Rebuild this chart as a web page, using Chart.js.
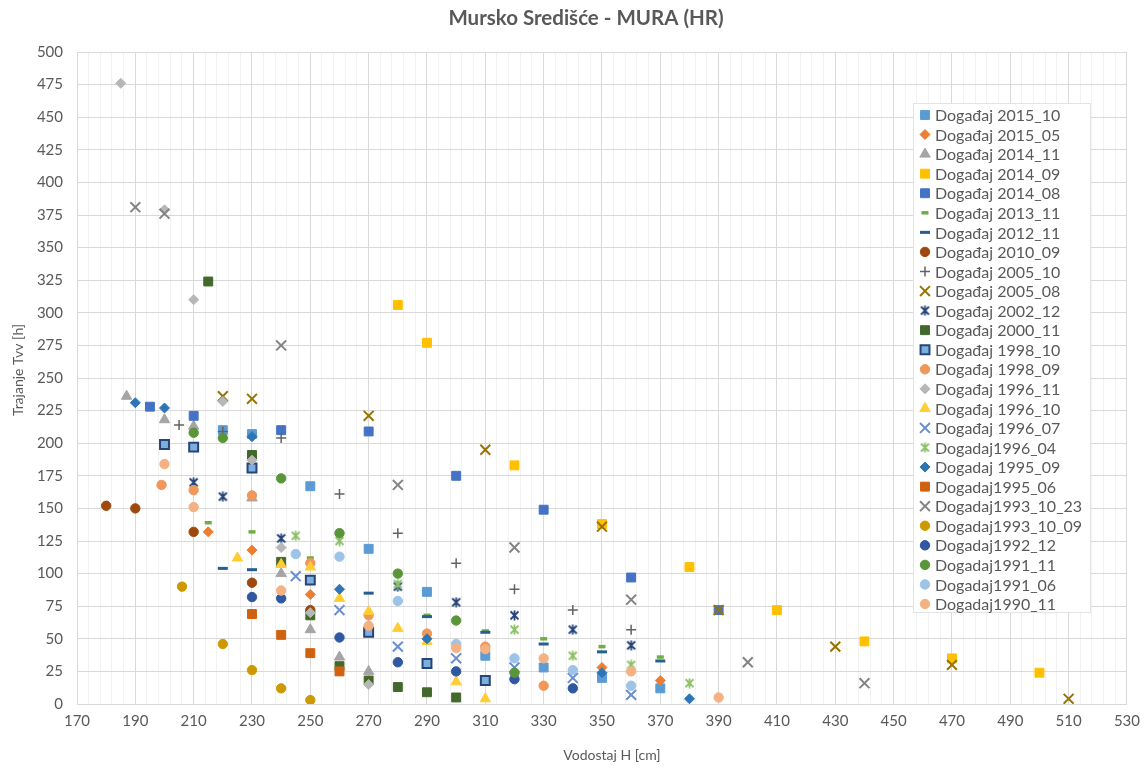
<!DOCTYPE html>
<html>
<head>
<meta charset="utf-8">
<script src="https://cdn.jsdelivr.net/npm/chart.js@4.4.1/dist/chart.umd.min.js"></script>
<style>
  html, body { margin: 0; padding: 0; background: #fff; }
  #wrap { width: 1148px; height: 769px; }
</style>
</head>
<body>
<div id="wrap"><canvas id="c" width="1148" height="769"></canvas></div>
<script>
// [Vodostaj H (cm), Trajanje Tvv (h)] for each event
var d2015_10 = [[220, 210], [230, 207], [250, 167], [270, 119], [290, 86], [310, 37], [330, 28], [350, 20], [370, 12]];
var d2015_05 = [[215, 132], [230, 118], [250, 84], [350, 28], [370, 18]];
var d2014_11 = [[187, 236], [200, 218], [210, 213], [230, 158], [240, 100], [250, 57], [260, 36], [270, 25]];
var d2014_09 = [[280, 306], [290, 277], [320, 183], [350, 138], [380, 105], [410, 72], [440, 48], [470, 35], [500, 24]];
var d2014_08 = [[195, 228], [210, 221], [240, 210], [270, 209], [300, 175], [330, 149], [360, 97], [390, 72]];
var d2013_11 = [[215, 139], [230, 132], [250, 112], [290, 68], [310, 56], [330, 50], [350, 44], [370, 36]];
var d2012_11 = [[220, 104], [230, 103], [270, 85], [290, 67], [310, 55], [330, 46], [350, 40], [370, 33]];
var d2010_09 = [[180, 152], [190, 150], [210, 132], [230, 93], [250, 72]];
var d2005_10 = [[205, 214], [220, 209], [240, 204], [260, 161], [280, 131], [300, 108], [320, 88], [340, 72], [360, 57]];
var d2005_08 = [[220, 236], [230, 234], [270, 221], [310, 195], [350, 136], [390, 72], [430, 44], [470, 30], [510, 4]];
var d2002_12 = [[210, 170], [220, 159], [240, 127], [280, 90], [300, 78], [320, 68], [340, 57], [360, 45]];
var d2000_11 = [[215, 324], [230, 191], [240, 109], [250, 68], [260, 29], [270, 18], [280, 13], [290, 9], [300, 5]];
var d1998_10 = [[200, 199], [210, 197], [230, 181], [250, 95], [270, 55], [290, 31], [310, 18]];
var d1998_09 = [[199, 168], [210, 164], [230, 160], [250, 108], [270, 68], [290, 54], [310, 44], [330, 14]];
var d1996_11 = [[185, 476], [200, 379], [210, 310], [220, 232], [230, 187], [240, 120], [250, 70], [270, 15]];
var d1996_10 = [[225, 112], [240, 107], [250, 105], [260, 81], [270, 71], [280, 58], [290, 48], [300, 17], [310, 4]];
var d1996_07 = [[245, 98], [260, 72], [280, 44], [300, 35], [320, 28], [340, 20], [360, 7]];
var d1996_04 = [[245, 129], [260, 125], [280, 92], [320, 57], [340, 37], [360, 30], [380, 16]];
var d1995_09 = [[190, 231], [200, 227], [230, 205], [260, 88], [290, 50], [350, 24], [380, 4]];
var d1995_06 = [[230, 69], [240, 53], [250, 39], [260, 25]];
var d1993_10_23 = [[190, 381], [200, 376], [240, 275], [280, 168], [320, 120], [360, 80], [400, 32], [440, 16]];
var d1993_10_09 = [[206, 90], [220, 46], [230, 26], [240, 12], [250, 3]];
var d1992_12 = [[230, 82], [240, 81], [260, 51], [280, 32], [300, 25], [320, 19], [340, 12]];
var d1991_11 = [[210, 208], [220, 204], [240, 173], [260, 131], [280, 100], [300, 64], [320, 24]];
var d1991_06 = [[245, 115], [260, 113], [280, 79], [300, 46], [320, 35], [340, 26], [360, 14]];
var d1990_11 = [[200, 184], [210, 151], [240, 87], [270, 60], [300, 43], [310, 42], [330, 35], [360, 25], [390, 5]];

var names = ['Događaj 2015_10', 'Događaj 2015_05', 'Događaj 2014_11', 'Događaj 2014_09', 'Događaj 2014_08',
    'Događaj 2013_11', 'Događaj 2012_11', 'Događaj 2010_09', 'Događaj 2005_10', 'Događaj 2005_08',
    'Događaj 2002_12', 'Događaj 2000_11', 'Događaj 1998_10', 'Događaj 1998_09', 'Događaj 1996_11',
    'Događaj 1996_10', 'Događaj 1996_07', 'Dogadaj1996_04', 'Dogadaj 1995_09', 'Dogadaj1995_06',
    'Dogadaj1993_10_23', 'Dogadaj1993_10_09', 'Dogadaj1992_12', 'Dogadaj1991_11', 'Dogadaj1991_06',
    'Dogadaj1990_11'];
var series = [d2015_10, d2015_05, d2014_11, d2014_09, d2014_08, d2013_11, d2012_11, d2010_09, d2005_10,
    d2005_08, d2002_12, d2000_11, d1998_10, d1998_09, d1996_11, d1996_10, d1996_07, d1996_04, d1995_09,
    d1995_06, d1993_10_23, d1993_10_09, d1992_12, d1991_11, d1991_06, d1990_11];

var xTicks = [170, 190, 210, 230, 250, 270, 290, 310, 330, 350, 370, 390, 410, 430, 450, 470, 490, 510, 530];
var yTicks = [0, 25, 50, 75, 100, 125, 150, 175, 200, 225, 250, 275, 300, 325, 350, 375, 400, 425, 450, 475, 500];

// Excel-like star marker (x with a vertical bar)
function starMarker(color) {
    var c = document.createElement('canvas');
    c.width = 11; c.height = 11;
    var g = c.getContext('2d');
    g.strokeStyle = color;
    g.lineWidth = 1.8;
    g.beginPath();
    g.moveTo(1.5, 1.5); g.lineTo(9.5, 9.5);
    g.moveTo(9.5, 1.5); g.lineTo(1.5, 9.5);
    g.moveTo(5.5, 0.5); g.lineTo(5.5, 10.5);
    g.stroke();
    return c;
}

// marker styles: [pointStyle, radius, fill, stroke, borderWidth]
var styles = [
    ['rect', 6.3, '#5B9BD5', '#5B9BD5', 1],
    ['rectRot', 5, '#ED7D31', '#ED7D31', 1],
    ['triangle', 6, '#A5A5A5', '#A5A5A5', 1],
    ['rect', 6.3, '#FFC000', '#FFC000', 1],
    ['rect', 6.3, '#4472C4', '#4472C4', 1],
    ['line', 3.5, '#70AD47', '#70AD47', 3.5],
    ['line', 5, '#255E91', '#255E91', 3],
    ['circle', 4.7, '#9E480E', '#9E480E', 1],
    ['cross', 5, '#636363', '#636363', 1.5],
    ['crossRot', 7, '#997300', '#997300', 2],
    [starMarker('#264478'), 5, '#264478', '#264478', 0],
    ['rect', 6.3, '#43682B', '#43682B', 1],
    ['rect', 6.3, '#7CAFDD', '#264478', 2],
    ['circle', 4.7, '#F1975A', '#F1975A', 1],
    ['rectRot', 5, '#B7B7B7', '#B7B7B7', 1],
    ['triangle', 6, '#FFCD33', '#FFCD33', 1],
    ['crossRot', 7, '#698ED0', '#698ED0', 2],
    [starMarker('#8CC168'), 5, '#8CC168', '#8CC168', 0],
    ['rectRot', 5, '#2E75B6', '#2E75B6', 1],
    ['rect', 6.3, '#D0620F', '#D0620F', 1],
    ['crossRot', 7, '#848484', '#848484', 2],
    ['circle', 4.7, '#CC9A00', '#CC9A00', 1],
    ['circle', 4.7, '#2F58A0', '#2F58A0', 1],
    ['circle', 4.7, '#5A953A', '#5A953A', 1],
    ['circle', 4.7, '#9DC3E6', '#9DC3E6', 1],
    ['circle', 4.7, '#F4B183', '#F4B183', 1]
];

var datasets = series.map(function (pts, i) {
    var s = styles[i];
    return {
        label: names[i],
        data: pts.map(function (p) { return { x: p[0], y: p[1] }; }),
        pointStyle: s[0],
        pointRadius: s[1],
        backgroundColor: s[2],
        borderColor: s[3],
        borderWidth: s[4],
        showLine: false,
        order: series.length - i // later events on top, like Excel
    };
});

var FONT = 'Lato, "Open Sans", sans-serif';

var extras = {
    id: 'extras',
    afterDraw: function (chart) {
        var ctx = chart.ctx;
        ctx.save();
        ctx.fillStyle = '#595959';
        ctx.font = 'bold 20.5px ' + FONT;
        ctx.textAlign = 'center';
        ctx.textBaseline = 'middle';
        ctx.fillText('Mursko Središće - MURA (HR)', 586, 18);

        // axis titles
        ctx.font = '14px ' + FONT;
        ctx.fillText('Vodostaj H [cm]', 612, 755);
        ctx.save();
        ctx.translate(18, 370);
        ctx.rotate(-Math.PI / 2);
        ctx.fillText('Trajanje Tvv [h]', 0, 0);
        ctx.restore();

        // legend box inside the plot
        ctx.fillStyle = '#ffffff';
        ctx.fillRect(913, 103, 177, 509);
        ctx.strokeStyle = '#e3e3e3';
        ctx.lineWidth = 1;
        ctx.strokeRect(913.5, 103.5, 177, 509);
        ctx.textAlign = 'left';
        ctx.font = '16px ' + FONT;
        chart.data.datasets.forEach(function (ds, i) {
            var y = 115 + i * 19.56;
            ctx.fillStyle = ds.backgroundColor;
            ctx.strokeStyle = ds.borderColor;
            ctx.lineWidth = ds.borderWidth;
            Chart.helpers.drawPoint(ctx, {
                pointStyle: ds.pointStyle,
                radius: ds.pointRadius,
                borderWidth: ds.borderWidth,
                rotation: 0
            }, 925, y);
            ctx.fillStyle = '#595959';
            ctx.fillText(ds.label, 935, y + 1);
        });
        ctx.restore();
    }
};

new Chart(document.getElementById('c'), {
    type: 'scatter',
    data: { datasets: datasets },
    options: {
        responsive: false,
        animation: false,
        events: [],
        layout: { padding: { left: 5, right: 20, top: 52, bottom: 5 } },
        plugins: {
            legend: { display: false },
            tooltip: { enabled: false },
            title: { display: false }
        },
        scales: {
            x: {
                type: 'linear',
                min: 170,
                max: 530,
                afterFit: function (s) { s.height = 60; },
                afterBuildTicks: function (s) {
                    var t = [];
                    for (var v = 170; v <= 530; v += 4) t.push({ value: v });
                    s.ticks = t;
                },
                ticks: {
                    autoSkip: false,
                    maxRotation: 0,
                    padding: 8,
                    color: '#595959',
                    font: { family: FONT, size: 15 },
                    callback: function (v) { return xTicks.indexOf(v) >= 0 ? String(v) : ''; }
                },
                grid: {
                    drawTicks: false,
                    color: function (c) { return xTicks.indexOf(c.tick.value) >= 0 ? '#d9d9d9' : '#f2f2f2'; }
                },
                border: { color: '#d9d9d9' }
            },
            y: {
                min: 0,
                max: 500,
                afterFit: function (s) { s.width = 72; },
                afterBuildTicks: function (s) {
                    s.ticks = yTicks.map(function (v) { return { value: v }; });
                },
                ticks: {
                    padding: 14,
                    color: '#595959',
                    font: { family: FONT, size: 15 }
                },
                grid: { drawTicks: false, color: '#d9d9d9' },
                border: { color: '#d9d9d9' }
            }
        }
    },
    plugins: [extras]
});
</script>
</body>
</html>
